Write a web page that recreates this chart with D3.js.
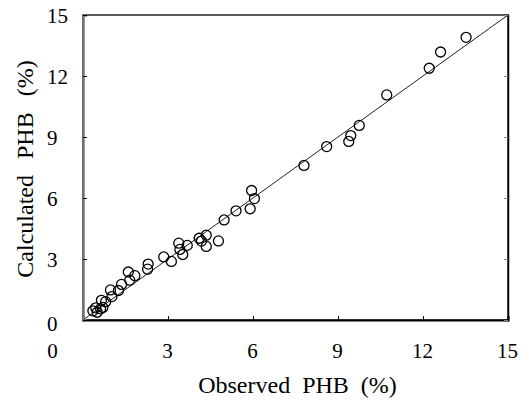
<!DOCTYPE html>
<html>
<head>
<meta charset="utf-8">
<script src="https://d3js.org/d3.v7.min.js"></script>
<style>
  body { margin: 0; background: #fff; }
  svg { display: block; }
  text { font-family: "Liberation Serif", "Times New Roman", serif; fill: #000; }
</style>
</head>
<body>
<svg id="chart" width="529" height="402"></svg>
<script>
// observed vs calculated PHB (%)
var observed = [0.35, 0.45, 0.50, 0.62, 0.70, 0.65, 0.80, 1.02, 0.97, 1.25, 1.36, 1.65, 1.60, 1.83, 2.28, 2.30,
  2.85, 3.12, 3.38, 3.42, 3.52, 3.68, 4.10, 4.18, 4.35, 4.35, 4.78, 4.98, 5.40, 5.90, 6.05, 5.95,
  7.80, 8.60, 9.38, 9.45, 9.75, 10.72, 12.22, 12.62, 13.52];
var calculated = [0.45, 0.60, 0.38, 0.55, 0.62, 0.97, 0.90, 1.15, 1.48, 1.45, 1.75, 1.96, 2.36, 2.18, 2.50, 2.75,
  3.10, 2.88, 3.78, 3.47, 3.22, 3.67, 4.02, 3.88, 4.17, 3.62, 3.89, 4.92, 5.37, 5.47, 5.97, 6.37,
  7.60, 8.53, 8.78, 9.07, 9.57, 11.07, 12.38, 13.18, 13.90];
var tickValues = [0, 3, 6, 9, 12, 15];
var xTitle = 'Observed PHB (%)';
var yTitle = 'Calculated PHB (%)';

var svg = d3.select('#chart');
// plot box (note: "top" is taken by window.top)
var plotL = 83, plotR = 508, plotT = 15, plotB = 320;

var x = d3.scaleLinear().domain([0, 15]).range([plotL, plotR]);
var y = d3.scaleLinear().domain([0, 15]).range([plotB, plotT]);

// frame
svg.append('rect')
  .attr('x', plotL).attr('y', plotT)
  .attr('width', plotR - plotL).attr('height', plotB - plotT)
  .attr('fill', 'none').attr('stroke', '#000').attr('stroke-width', 1.3);

// 1:1 line
svg.append('line')
  .attr('x1', x(0)).attr('y1', y(0))
  .attr('x2', x(15)).attr('y2', y(15))
  .attr('stroke', '#222').attr('stroke-width', 1);

// bottom axis
var gx = svg.append('g')
  .attr('transform', 'translate(0,' + plotB + ')')
  .call(d3.axisBottom(x).tickValues(tickValues).tickSize(-4).tickPadding(23).tickFormat(d3.format('d')));
gx.select('.domain').attr('stroke', '#000').attr('stroke-width', 2);
gx.selectAll('text').attr('font-size', 21).attr('font-family', '"Liberation Serif", serif')
  .attr('x', function(d) { return d === 0 ? -31 : -1; });

// left axis
var gy = svg.append('g')
  .attr('transform', 'translate(' + plotL + ',0)')
  .call(d3.axisLeft(y).tickValues(tickValues).tickSize(-4).tickPadding(0).tickFormat(d3.format('d')));
gy.select('.domain').attr('stroke', '#777').attr('stroke-width', 2.5);
gy.selectAll('text').attr('font-size', 21).attr('font-family', '"Liberation Serif", serif')
  .attr('text-anchor', 'start').attr('x', -36)
  .attr('dy', function(d) { return d === 0 ? '0.5em' : '0.34em'; });

// right axis ticks
var gr = svg.append('g')
  .attr('transform', 'translate(' + plotR + ',0)')
  .call(d3.axisRight(y).tickValues(tickValues).tickSize(-4).tickFormat(''));
gr.select('.domain').attr('stroke', '#000').attr('stroke-width', 1.5);
gr.selectAll('line').attr('stroke', '#888');

// points
svg.append('g').selectAll('circle')
  .data(observed)
  .join('circle')
  .attr('cx', function(d) { return x(d); })
  .attr('cy', function(d, i) { return y(calculated[i]); })
  .attr('r', 5)
  .attr('fill', 'none')
  .attr('stroke', '#000')
  .attr('stroke-width', 1.3);

// titles
svg.append('text')
  .attr('x', (plotL + plotR) / 2 + 2).attr('y', 393)
  .attr('text-anchor', 'middle').attr('font-size', 24)
  .style('word-spacing', '6px')
  .text(xTitle);

svg.append('text')
  .attr('transform', 'translate(33,169) rotate(-90)')
  .attr('text-anchor', 'middle').attr('font-size', 24)
  .style('word-spacing', '10px')
  .text(yTitle);
</script>
</body>
</html>
